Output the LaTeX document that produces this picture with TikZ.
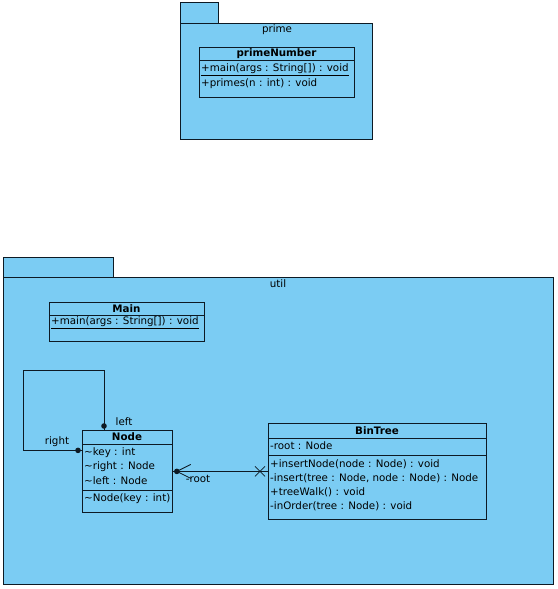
\documentclass[tikz,border=0pt]{standalone}
\usepackage{fontspec}
\setmainfont{DejaVu Sans}
\usetikzlibrary{positioning,calc}
\definecolor{PkgBlue}{HTML}{7BCCF3}
\definecolor{LineInk}{HTML}{0D1A24}

\begin{document}
\begin{tikzpicture}[
    x=1pt, y=-1pt,
    pkg/.style={draw=LineInk, fill=PkgBlue, line width=0.8pt},
    cls/.style={draw=LineInk, line width=0.8pt, inner sep=0pt, anchor=north west},
    title/.style={font=\fontsize{10.3}{11}\selectfont\bfseries, inner sep=0pt},
    member/.style={font=\fontsize{10.3}{11}\selectfont, inner sep=0pt, anchor=west},
    label/.style={font=\fontsize{10.3}{11}\selectfont, inner sep=0pt},
    assoc/.style={draw=LineInk, line width=0.8pt}
  ]
  \useasboundingbox (0,0) rectangle (557,589);
  \fill[white] (0,0) rectangle (557,589);

  % Package: prime
  \draw[pkg] (180,2) rectangle (218,23);
  \draw[pkg] (180,23) rectangle (372,139);
  \node[label] (primeName) at (277,30) {prime};

  % Class: primeNumber
  \node[cls, minimum width=155pt, minimum height=50pt] (primeNum) at (199,47) {};
  \draw[assoc] (199,60) -- (354,60);
  \node[title] (primeNumTitle) at (276.5,53.5) {primeNumber};
  \node[member] (primeMain) at (201,70) {\underline{+main(args : String[]) : void}};
  \node[member] (primePrimes) at (201,84) {+primes(n : int) : void};

  % Package: util
  \draw[pkg] (3,257) rectangle (113,277);
  \draw[pkg] (3,277) rectangle (553,584);
  \node[label] (utilName) at (278,284) {util};

  % Class: Main
  \node[cls, minimum width=155pt, minimum height=39pt] (mainCls) at (49,302) {};
  \draw[assoc] (49,315) -- (204,315);
  \node[title] (mainTitle) at (126.5,308.5) {Main};
  \node[member] (mainMain) at (51,323) {\underline{+main(args : String[]) : void}};

  % Class: Node
  \node[cls, minimum width=90pt, minimum height=82pt] (nodeCls) at (82,430) {};
  \draw[assoc] (82,444) -- (172,444);
  \draw[assoc] (82,490) -- (172,490);
  \node[title] (nodeTitle) at (127,437) {Node};
  \node[member] (nodeKey) at (84,453) {\textasciitilde key : int};
  \node[member] (nodeRight) at (84,467) {\textasciitilde right : Node};
  \node[member] (nodeLeft) at (84,481) {\textasciitilde left : Node};
  \node[member] (nodeCtor) at (84,499) {\textasciitilde Node(key : int)};

  % Class: BinTree
  \node[cls, minimum width=218pt, minimum height=96pt] (binTree) at (268,423) {};
  \draw[assoc] (268,438) -- (486,438);
  \draw[assoc] (268,455) -- (486,455);
  \node[title] (binTitle) at (377,430.5) {BinTree};
  \node[member] (binRoot) at (270,446) {-root : Node};
  \node[member] (binInsNode) at (270,464) {+insertNode(node : Node) : void};
  \node[member] (binInsert) at (270,478) {-insert(tree : Node, node : Node) : Node};
  \node[member] (binWalk) at (270,492) {+treeWalk() : void};
  \node[member] (binInOrder) at (270,506) {-inOrder(tree : Node) : void};

  % Self association on Node (left / right)
  \coordinate (loopCorner) at (23,370);
  \draw[assoc] ([xshift=22pt]nodeCls.north west) |- (loopCorner) |- ([yshift=21pt]nodeCls.west);
  \fill[LineInk] ([xshift=22pt,yshift=4pt]nodeCls.north west) circle (2.8pt);
  \fill[LineInk] ([xshift=-4pt,yshift=21pt]nodeCls.west) circle (2.8pt);
  \node[label] (leftRole) at (124,422) {left};
  \node[label] (rightRole) at (57,442) {right};

  % Association BinTree -> Node (root)
  \draw[assoc] (nodeCls.east) -- (binTree.west);
  \fill[LineInk] ([xshift=4pt]nodeCls.east) circle (2.8pt);
  \draw[assoc] ([xshift=18pt,yshift=7pt]nodeCls.east) -- ([xshift=4pt]nodeCls.east)
    -- ([xshift=18pt,yshift=-7pt]nodeCls.east);
  \draw[assoc] ([xshift=-13pt,yshift=5pt]binTree.west) -- ([xshift=-3pt,yshift=-5pt]binTree.west);
  \draw[assoc] ([xshift=-13pt,yshift=-5pt]binTree.west) -- ([xshift=-3pt,yshift=5pt]binTree.west);
  \node[label] (rootRole) at (198,479) {-root};
\end{tikzpicture}
\end{document}
